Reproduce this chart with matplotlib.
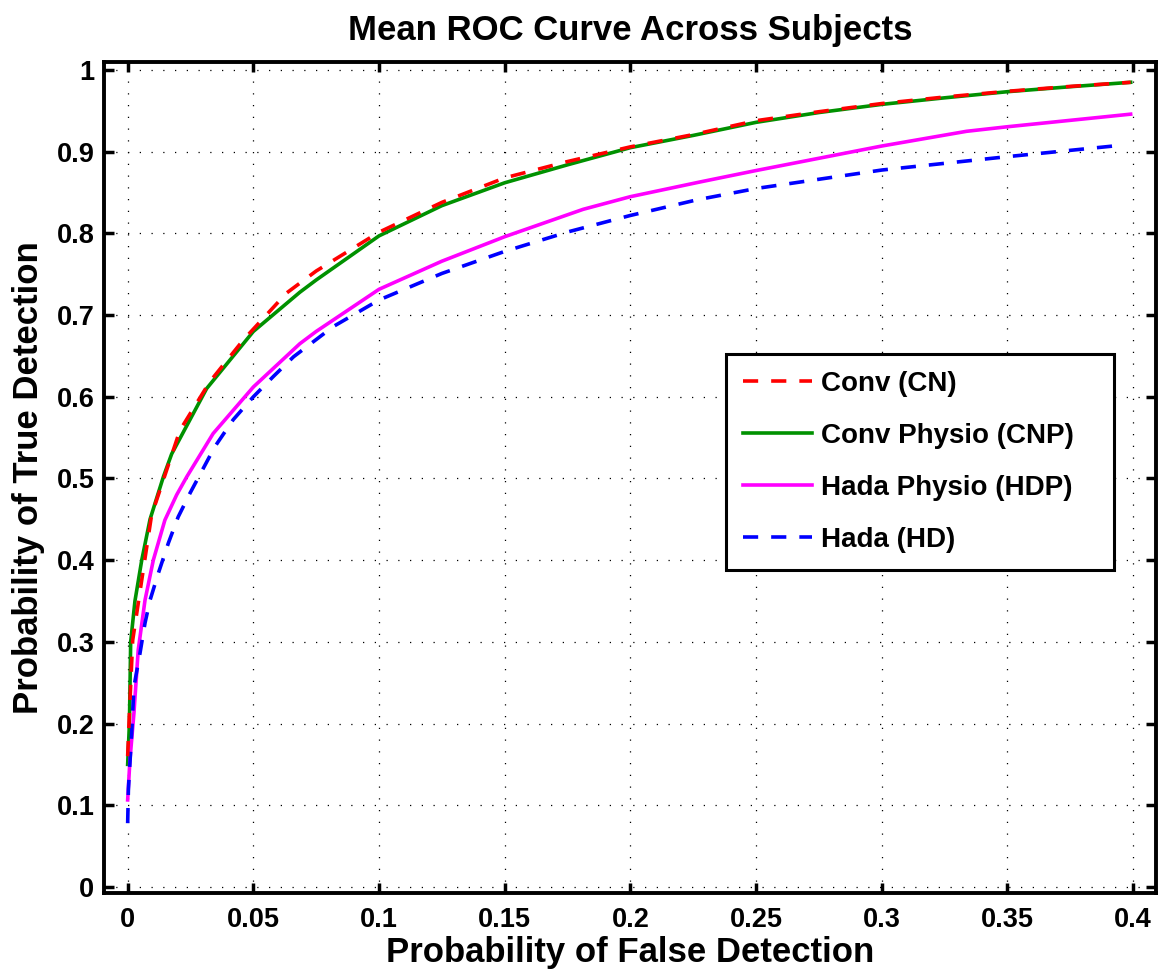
import matplotlib
matplotlib.use('Agg')
import matplotlib.pyplot as plt

plt.rcParams['font.family'] = ['Liberation Sans', 'DejaVu Sans']
plt.rcParams['font.weight'] = 'bold'

# values
cn_x = [0, 0.0008, 0.002, 0.0062, 0.0095, 0.0208, 0.0327, 0.046, 0.0632,
        0.075, 0.1, 0.125, 0.15, 0.175, 0.2, 0.225, 0.25, 0.275, 0.3, 0.325,
        0.35, 0.375, 0.399]
cn_y = [0.16, 0.22, 0.302, 0.388, 0.455, 0.559, 0.6185, 0.6695, 0.727,
        0.754, 0.8015, 0.838, 0.868, 0.888, 0.906, 0.921, 0.938, 0.949, 0.959,
        0.967, 0.974, 0.98, 0.985]

cnp_x = [0, 0.0007, 0.0012, 0.0029, 0.0056, 0.0089, 0.0142, 0.0175, 0.0314,
         0.05, 0.0685, 0.075, 0.1, 0.125, 0.15, 0.175, 0.2, 0.225, 0.25,
         0.275, 0.3, 0.325, 0.35, 0.375, 0.399]
cnp_y = [0.15, 0.20, 0.30, 0.35, 0.40, 0.45, 0.502, 0.530, 0.610,
         0.680, 0.728, 0.743, 0.797, 0.834, 0.862, 0.884, 0.905, 0.920, 0.936,
         0.948, 0.958, 0.966, 0.9735, 0.9796, 0.985]

hdp_x = [0, 0.0009, 0.0025, 0.0042, 0.0069, 0.0102, 0.0148, 0.0195, 0.0235,
         0.034, 0.05, 0.0685, 0.075, 0.1, 0.125, 0.15, 0.1812, 0.2, 0.2277,
         0.25, 0.3, 0.3337, 0.35, 0.399]
hdp_y = [0.1065, 0.155, 0.213, 0.29, 0.351, 0.400, 0.449, 0.480, 0.502,
         0.555, 0.612, 0.665, 0.680, 0.7316, 0.766, 0.796, 0.8295, 0.845, 0.863,
         0.877, 0.907, 0.925, 0.9306, 0.946]

hd_x = [0, 0.0003, 0.0016, 0.0025, 0.0049, 0.0069, 0.0089, 0.0122, 0.0162,
        0.0201, 0.0248, 0.0347, 0.042, 0.05, 0.058, 0.066, 0.0818, 0.1, 0.125,
        0.15, 0.1753, 0.2, 0.2263, 0.25, 0.3, 0.35, 0.3954]
hd_y = [0.078, 0.12, 0.188, 0.245, 0.286, 0.323, 0.351, 0.384, 0.421,
        0.453, 0.482, 0.539, 0.572, 0.600, 0.625, 0.649, 0.686, 0.7185, 0.751,
        0.778, 0.802, 0.822, 0.841, 0.855, 0.8776, 0.894, 0.908]

x_ticks = [0, 0.05, 0.1, 0.15, 0.2, 0.25, 0.3, 0.35, 0.4]
x_labels = ['0', '0.05', '0.1', '0.15', '0.2', '0.25', '0.3', '0.35', '0.4']
y_ticks = [0, 0.1, 0.2, 0.3, 0.4, 0.5, 0.6, 0.7, 0.8, 0.9, 1]
y_labels = ['0', '0.1', '0.2', '0.3', '0.4', '0.5', '0.6', '0.7', '0.8',
            '0.9', '1']

fig = plt.figure(figsize=(11.65, 9.71), dpi=100)
ax = fig.add_axes([0.0893, 0.0803, 0.9030, 0.8558])

lw = 2.6
dash = (4.2, 3.6)
ax.plot(cnp_x, cnp_y, color='#009100', lw=lw, label='Conv Physio (CNP)',
        zorder=3)
ax.plot(cn_x, cn_y, color='#ff0000', lw=lw, dashes=dash, label='Conv (CN)',
        zorder=4)
ax.plot(hdp_x, hdp_y, color='#ff00ff', lw=lw, label='Hada Physio (HDP)',
        zorder=3)
ax.plot(hd_x, hd_y, color='#0000ff', lw=lw, dashes=dash, label='Hada (HD)',
        zorder=3)

ax.set_xlim(-0.0094, 0.4091)
ax.set_ylim(-0.0075, 1.0098)
ax.set_xticks(x_ticks)
ax.set_xticklabels(x_labels)
ax.set_yticks(y_ticks)
ax.set_yticklabels(y_labels)
ax.tick_params(direction='in', length=7, width=2.5, top=True, right=True,
               labelsize=19.5)
ax.tick_params(axis='x', pad=10)
ax.tick_params(axis='y', pad=7)
for s in ax.spines.values():
    s.set_linewidth(2.8)

ax.grid(True, color='k', linewidth=0.9, linestyle=(0, (1, 8.4)))
ax.set_axisbelow(True)

ax.set_title('Mean ROC Curve Across Subjects', fontsize=25,
             fontweight='bold', pad=16)
ax.set_xlabel('Probability of False Detection', fontsize=25,
              fontweight='bold', labelpad=2)
ax.set_ylabel('Probability of True Detection', fontsize=25,
              fontweight='bold', labelpad=8)

handles, labels = ax.get_legend_handles_labels()
order = [1, 0, 2, 3]
leg = ax.legend([handles[i] for i in order], [labels[i] for i in order],
                loc='upper left', bbox_to_anchor=(0.5913, 0.0, 0.3688, 0.6486),
                mode='expand', borderaxespad=0, fontsize=20, fancybox=False,
                framealpha=1, edgecolor='k', handlelength=2.5,
                handletextpad=0.32, labelspacing=0.94, borderpad=0.6)
leg.get_frame().set_linewidth(2.2)

fig.savefig('out.png', dpi=100)
